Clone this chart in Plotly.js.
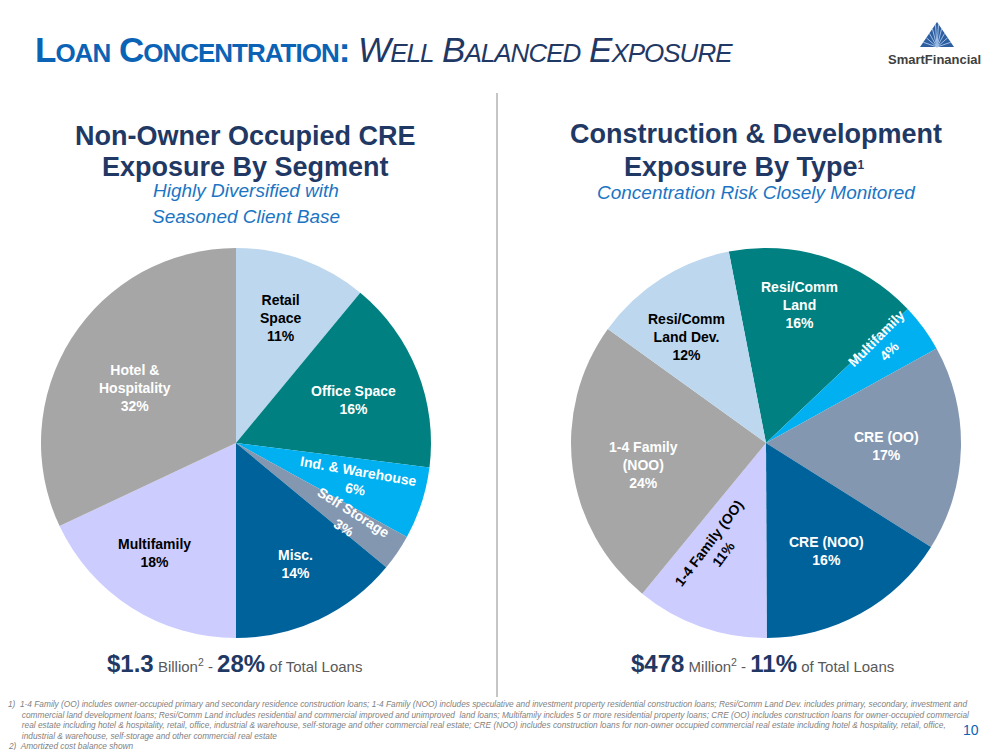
<!DOCTYPE html>
<html>
<head>
<meta charset="utf-8">
<script src="https://cdn.plot.ly/plotly-3.0.1.min.js"></script>
<style>
html,body{margin:0;padding:0;background:#fff;}
#chart{width:999px;height:750px;}
</style>
</head>
<body>
<div id="chart"></div>
<script>
// ---------- DATA ----------
const creLabels = ["Retail<br>Space", "Office Space", "Ind. & Warehouse", "Self Storage", "Misc.", "Multifamily", "Hotel &<br>Hospitality"];
const creValues = [11, 16, 6, 3, 14, 18, 32];

const cdLabels = ["Resi/Comm<br>Land", "Multifamily", "CRE (OO)", "CRE (NOO)", "1-4 Family (OO)", "1-4 Family<br>(NOO)", "Resi/Comm<br>Land Dev."];
const cdValues = [16, 4, 17, 16, 11, 24, 12];

const creTotal = "$1.3";
const creUnit = "Billion";
const creShare = "28%";
const cdTotal = "$478";
const cdUnit = "Million";
const cdShare = "11%";

// ---------- STYLE ----------
const W = 999, H = 750;
const px = x => x / W;
const py = y => 1 - y / H;

const creColors = ["#bdd7ee", "#008080", "#00b0f0", "#8497b0", "#00629b", "#ccccff", "#a6a6a6"];
const creTextColors = ["#000", "#fff", "#fff", "#fff", "#fff", "#000", "#fff"];
const creLabelR = [0.68, 0.64, 0.65, 0.70, 0.69, 0.70, 0.59];
const creLabelDAng = [0, 1.6, -1, 0, -1, 4, -4];
const creLabelRot = [0, 0, 10, 32, 0, 0, 0];

const cdColors = ["#008080", "#00b0f0", "#8497b0", "#00629b", "#ccccff", "#a6a6a6", "#bdd7ee"];
const cdTextColors = ["#fff", "#fff", "#fff", "#fff", "#000", "#fff", "#000"];
const cdLabelR = [0.73, 0.78, 0.62, 0.635, 0.60, 0.64, 0.68];
const cdLabelDAng = [-4, -4, 0, 0, 6, -2.7, -4];
const cdLabelRot = [0, -45, 0, 0, -53, 0, 0];

const R = 195;
const leftC = [236, 443];
const rightC = [766, 443];
const leftRot = 0;
const rightRot = -11;

const navy = "#1f3864";
const blue = "#0b63b5";
const subBlue = "#1b75c4";
const FONT = "Liberation Sans, Arial, sans-serif";

function pieTrace(values, labels, colors, c, rot) {
  return {
    type: "pie",
    values: values,
    labels: labels.map(l => l.replace(/<br>/g, " ")),
    sort: false,
    direction: "clockwise",
    rotation: rot,
    textinfo: "none",
    hoverinfo: "label+percent",
    showlegend: false,
    marker: { colors: colors, line: { color: "#ffffff", width: 0 } },
    domain: { x: [px(c[0] - R), px(c[0] + R)], y: [py(c[1] + R), py(c[1] - R)] }
  };
}

function sliceLabels(values, labels, textColors, rFrac, dAng, rots, c, rot) {
  const total = values.reduce((a, b) => a + b, 0);
  let cum = 0;
  const out = [];
  values.forEach((v, i) => {
    const mid = rot + 360 * (cum + v / 2) / total + dAng[i];
    cum += v;
    const a = mid * Math.PI / 180;
    const x = c[0] + rFrac[i] * R * Math.sin(a);
    const y = c[1] - rFrac[i] * R * Math.cos(a);
    const pct = Math.round(100 * v / total) + "%";
    out.push({
      xref: "paper", yref: "paper", x: px(x), y: py(y),
      xanchor: "center", yanchor: "middle", showarrow: false,
      text: "<b>" + labels[i] + "<br>" + pct + "</b>",
      textangle: rots[i],
      font: { family: FONT, size: 14, color: textColors[i] }
    });
  });
  return out;
}

const data = [
  pieTrace(creValues, creLabels, creColors, leftC, leftRot),
  pieTrace(cdValues, cdLabels, cdColors, rightC, rightRot)
];

function txt(x, y, text, size, color, extra) {
  return Object.assign({
    xref: "paper", yref: "paper", x: px(x), y: py(y),
    xanchor: "center", yanchor: "middle", showarrow: false,
    text: text, font: { family: FONT, size: size, color: color }
  }, extra || {});
}

const sc = s => `<span style="font-size:26px">${s}</span>`;

const footLines = [
  "1)  1-4 Family (OO) includes owner-occupied primary and secondary residence construction loans; 1-4 Family (NOO) includes speculative and investment property residential construction loans; Resi/Comm Land Dev. includes primary, secondary, investment and",
  "      commercial land development loans; Resi/Comm Land includes residential and commercial improved and unimproved  land loans; Multifamily includes 5 or more residential property loans; CRE (OO) includes construction loans for owner-occupied commercial",
  "      real estate including hotel &amp; hospitality, retail, office, industrial &amp; warehouse, self-storage and other commercial real estate; CRE (NOO) includes construction loans for non-owner occupied commercial real estate including hotel &amp; hospitality, retail, office,",
  "      industrial &amp; warehouse, self-storage and other commercial real estate",
  "2)  Amortized cost balance shown"
];
const footY = [704, 714.5, 725, 735.5, 746];

const annotations = [
  // main title
  {
    xref: "paper", yref: "paper", x: px(33), y: py(50), xanchor: "left", yanchor: "middle", showarrow: false,
    text: `<span style="letter-spacing:-1px"><b>L${sc("OAN")} C${sc("ONCENTRATION")}:</b> <span style="color:${navy}"><i>W${sc("ELL")} B${sc("ALANCED")} E${sc("XPOSURE")}</i></span></span>`,
    font: { family: FONT, size: 35, color: blue }
  },
  // logo text
  txt(934, 59, "<b>SmartFinancial</b>", 13, "#404040"),
  // left headings
  txt(245, 136, "<b>Non-Owner Occupied CRE</b>", 27, navy),
  txt(245, 167, "<b>Exposure By Segment</b>", 27, navy),
  txt(246, 190, "<i>Highly Diversified with</i>", 19, subBlue),
  txt(246, 216, "<i>Seasoned Client Base</i>", 19, subBlue),
  // right headings
  txt(756, 134, "<b>Construction &amp; Development</b>", 27, navy),
  txt(744, 167, `<b>Exposure By Type<span style="font-size:17px"><sup>1</sup></span></b>`, 27, navy),
  txt(756, 192, "<i>Concentration Risk Closely Monitored</i>", 19, subBlue),
  // bottom totals
  txt(234, 663, `<span style="font-size:24px;color:${navy}"><b>${creTotal}</b></span> ${creUnit}<sup>2</sup> - <span style="font-size:24px;color:${navy}"><b>${creShare}</b></span> of Total Loans`, 15, "#595959"),
  txt(762, 663, `<span style="font-size:24px;color:${navy}"><b>${cdTotal}</b></span> ${cdUnit}<sup>2</sup> - <span style="font-size:24px;color:${navy}"><b>${cdShare}</b></span> of Total Loans`, 15, "#595959"),
  // page number
  txt(971, 730, "10", 14, blue)
];

footLines.forEach((t, i) => {
  annotations.push({
    xref: "paper", yref: "paper", x: px(6), y: py(footY[i]), xanchor: "left", yanchor: "middle", showarrow: false,
    text: "<i>" + t + "</i>", font: { family: FONT, size: 8.3, color: "#7f7f7f" }
  });
});

annotations.push(...sliceLabels(creValues, creLabels, creTextColors, creLabelR, creLabelDAng, creLabelRot, leftC, leftRot));
annotations.push(...sliceLabels(cdValues, cdLabels, cdTextColors, cdLabelR, cdLabelDAng, cdLabelRot, rightC, rightRot));

// logo shapes
const apex = [937, 22], bl = [920, 47], br = [954, 47];
const P = (p) => `${px(p[0])},${py(p[1])}`;
const shapes = [
  { type: "line", xref: "paper", yref: "paper", x0: px(497), x1: px(497), y0: py(93), y1: py(697), line: { color: "#8c8c8c", width: 1 } },
  { type: "path", xref: "paper", yref: "paper", path: `M${P(apex)} L${P(br)} L${P(bl)} Z`, fillcolor: "#2f5e9f", line: { width: 0 } }
];
// rays of the logo
const base = [937, 47];
[0.1, 0.3, 0.5, 0.7, 0.9].forEach(t => {
  const lx = apex[0] + (bl[0] - apex[0]) * (1 - t) * 0.9;
  const ly = apex[1] + (bl[1] - apex[1]) * (1 - t) * 0.9;
  const rx = apex[0] + (br[0] - apex[0]) * (1 - t) * 0.9;
  const ry = apex[1] + (br[1] - apex[1]) * (1 - t) * 0.9;
  shapes.push({ type: "line", xref: "paper", yref: "paper", x0: px(base[0]), y0: py(base[1]), x1: px(lx), y1: py(ly), line: { color: "#9fc0e8", width: 1 } });
  shapes.push({ type: "line", xref: "paper", yref: "paper", x0: px(base[0]), y0: py(base[1]), x1: px(rx), y1: py(ry), line: { color: "#9fc0e8", width: 1 } });
});

const layout = {
  width: W, height: H,
  margin: { l: 0, r: 0, t: 0, b: 0 },
  paper_bgcolor: "#ffffff",
  plot_bgcolor: "#ffffff",
  showlegend: false,
  font: { family: FONT },
  annotations: annotations,
  shapes: shapes
};

Plotly.newPlot("chart", data, layout, { displayModeBar: false, staticPlot: true });
</script>
</body>
</html>
